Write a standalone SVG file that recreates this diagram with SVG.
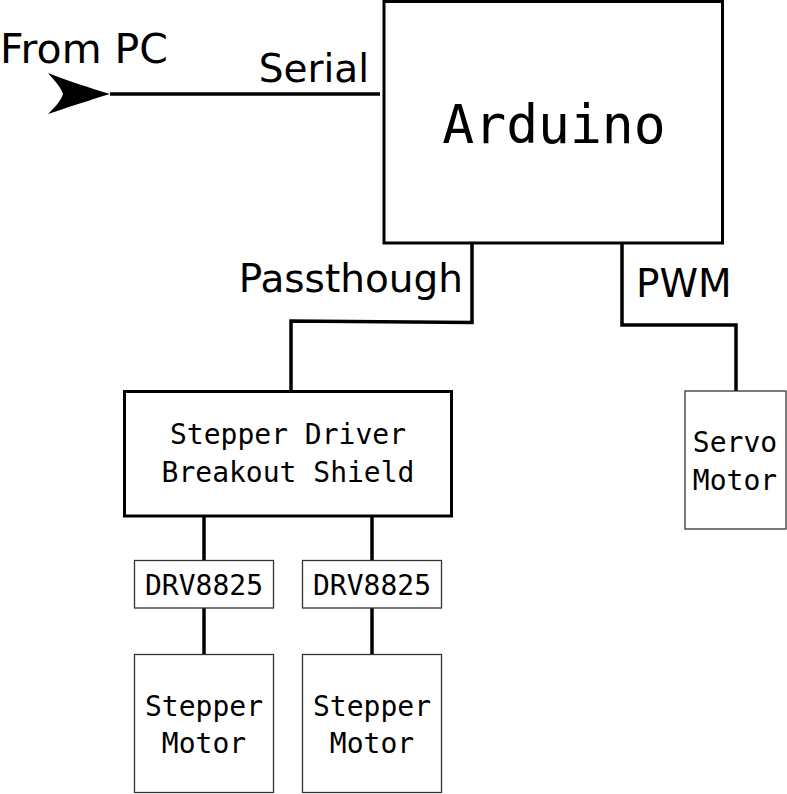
<svg xmlns="http://www.w3.org/2000/svg" width="787" height="794" viewBox="0 0 787 794">
<style>
.box{fill:#fff;stroke:#000;stroke-width:3}
.thin{fill:#fff;stroke:#333;stroke-width:1.3}
.wire{fill:none;stroke:#000;stroke-width:3.5}
.mono{font-family:"DejaVu Sans Mono","Liberation Mono",monospace;fill:#000;text-anchor:middle}
.sans{font-family:"DejaVu Sans","Liberation Sans",sans-serif;fill:#000;font-size:39px}
</style>
<defs>
<marker id="arrow" markerUnits="userSpaceOnUse" markerWidth="70" markerHeight="50" viewBox="-64 -22 70 44" refX="0" refY="0" orient="auto">
<path d="M0,0 C-20,-6 -44,-14 -62,-21 C-56,-14 -49,-7 -47,0 C-49,7 -56,14 -62,20 C-44,14 -20,6 0,0 Z" fill="#000"/>
</marker>
</defs>
<g id="connectors">
<line class="wire" x1="110" y1="94" x2="380" y2="94" marker-start="url(#arrow)"/>
<polyline class="wire" points="472,243 472,322.5 291,321 291,391"/>
<polyline class="wire" points="622,243 622,325 736,325 736,391"/>
<line class="wire" x1="204" y1="516" x2="204" y2="560"/>
<line class="wire" x1="372" y1="516" x2="372" y2="560"/>
<line class="wire" x1="204" y1="608" x2="204" y2="654"/>
<line class="wire" x1="372" y1="608" x2="372" y2="654"/>
</g>
<g id="labels">
<text class="sans" x="0" y="63" style="font-size:41px">From PC</text>
<text class="sans" x="369" y="82" text-anchor="end">Serial</text>
<text class="sans" x="463" y="292" text-anchor="end">Passthough</text>
<text class="sans" x="636" y="297">PWM</text>
</g>
<g id="arduino">
<rect class="box" x="384" y="1.5" width="338.5" height="241.5"/>
<text class="mono" x="554" y="143" font-size="53">Arduino</text>
</g>
<g id="shield">
<rect class="box" x="124.5" y="391.5" width="327" height="124.5"/>
<text class="mono" x="288" y="444" font-size="28">Stepper Driver</text>
<text class="mono" x="288" y="482" font-size="28">Breakout Shield</text>
</g>
<g id="servo">
<rect class="thin" x="685" y="391" width="101" height="138"/>
<text class="mono" x="735" y="452" font-size="28">Servo</text>
<text class="mono" x="735" y="490" font-size="28">Motor</text>
</g>
<g id="drv1">
<rect class="thin" x="134.5" y="560.5" width="139" height="47.5"/>
<text class="mono" x="204" y="595" font-size="28">DRV8825</text>
</g>
<g id="drv2">
<rect class="thin" x="302.5" y="560.5" width="139" height="47.5"/>
<text class="mono" x="372" y="595" font-size="28">DRV8825</text>
</g>
<g id="stepper1">
<rect class="thin" x="134.5" y="654.5" width="139" height="138"/>
<text class="mono" x="204" y="716" font-size="28">Stepper</text>
<text class="mono" x="204" y="753" font-size="28">Motor</text>
</g>
<g id="stepper2">
<rect class="thin" x="302.5" y="654.5" width="139" height="138"/>
<text class="mono" x="372" y="716" font-size="28">Stepper</text>
<text class="mono" x="372" y="753" font-size="28">Motor</text>
</g>
</svg>
